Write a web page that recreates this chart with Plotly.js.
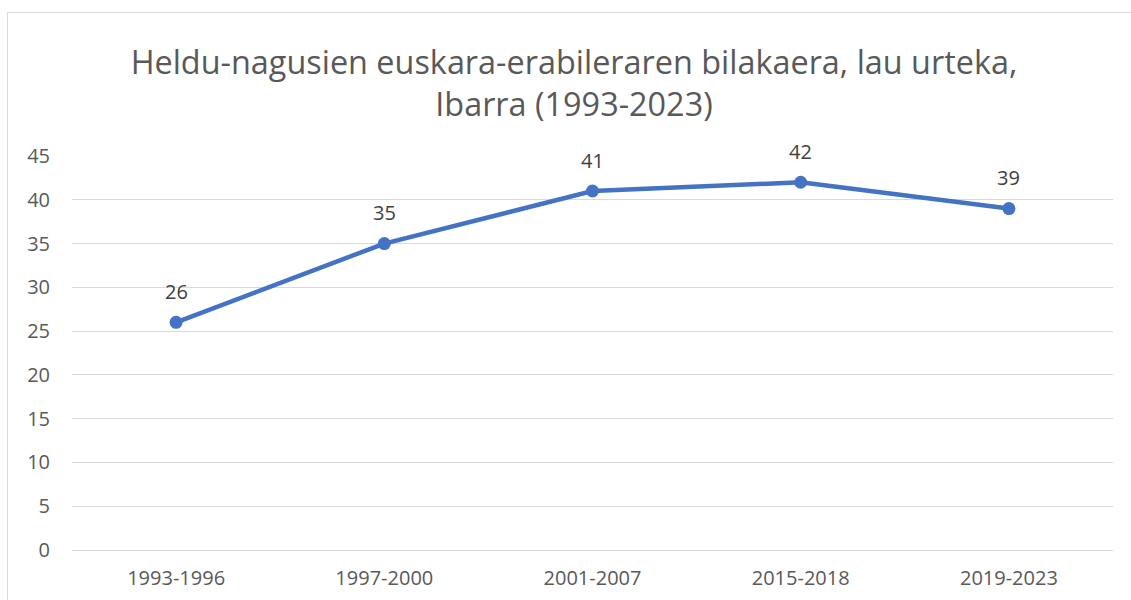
<!DOCTYPE html>
<html>
<head>
<meta charset="utf-8">
<script src="https://cdn.plot.ly/plotly-3.0.1.min.js"></script>
<style>
html,body{margin:0;padding:0;background:#fff;}
#frame{position:absolute;left:7px;top:12px;width:1140px;height:600px;border-left:1px solid #d9d9d9;border-top:1px solid #d9d9d9;pointer-events:none;}
#chart{position:absolute;left:0;top:0;width:1131px;height:600px;}
</style>
</head>
<body>
<div id="chart"></div>
<div id="frame"></div>
<script>
const categories = ["1993-1996", "1997-2000", "2001-2007", "2015-2018", "2019-2023"];
const values = [26, 35, 41, 42, 39];
const yTicks = [0, 5, 10, 15, 20, 25, 30, 35, 40, 45];
const titleText = "Heldu-nagusien euskara-erabileraren bilakaera, lau urteka,<br>Ibarra (1993-2023)";

const FONT = "'Open Sans', sans-serif";

const trace = {
  x: categories,
  y: values,
  type: "scatter",
  mode: "lines+markers",
  line: {color: "#4472C4", width: 4.5},
  marker: {color: "#4472C4", size: 13},
  hoverinfo: "skip"
};

const annotations = categories.map((c, i) => ({
  x: c, y: values[i], text: String(values[i]),
  showarrow: false, xref: "x", yref: "y",
  yshift: 31, yanchor: "middle",
  font: {family: FONT, size: 20, color: "#404040"}
}));

const layout = {
  width: 1131, height: 600,
  margin: {l: 72, r: 18, t: 156, b: 50},
  paper_bgcolor: "#ffffff", plot_bgcolor: "#ffffff",
  showlegend: false,
  title: {
    text: titleText,
    font: {family: FONT, size: 32.4, color: "#595959"},
    xref: "container", x: 574/1131, xanchor: "center",
    yref: "container", y: 1 - 74/600, yanchor: "middle"
  },
  xaxis: {
    type: "category",
    range: [-0.5, 4.5],
    showgrid: false, zeroline: false, showline: false,
    ticks: "", ticklabelstandoff: 14,
    tickfont: {family: FONT, size: 20, color: "#595959"},
    fixedrange: true
  },
  yaxis: {
    range: [0, 45],
    tickvals: yTicks,
    ticktext: yTicks.map(String),
    showgrid: true, gridcolor: "#d9d9d9", gridwidth: 1,
    zeroline: true, zerolinecolor: "#d9d9d9", zerolinewidth: 1,
    showline: false, ticks: "", ticklabelstandoff: 21,
    tickfont: {family: FONT, size: 20, color: "#595959"},
    fixedrange: true
  },
  annotations: annotations
};

Plotly.newPlot("chart", [trace], layout, {displayModeBar: false, staticPlot: true});
</script>
</body>
</html>
